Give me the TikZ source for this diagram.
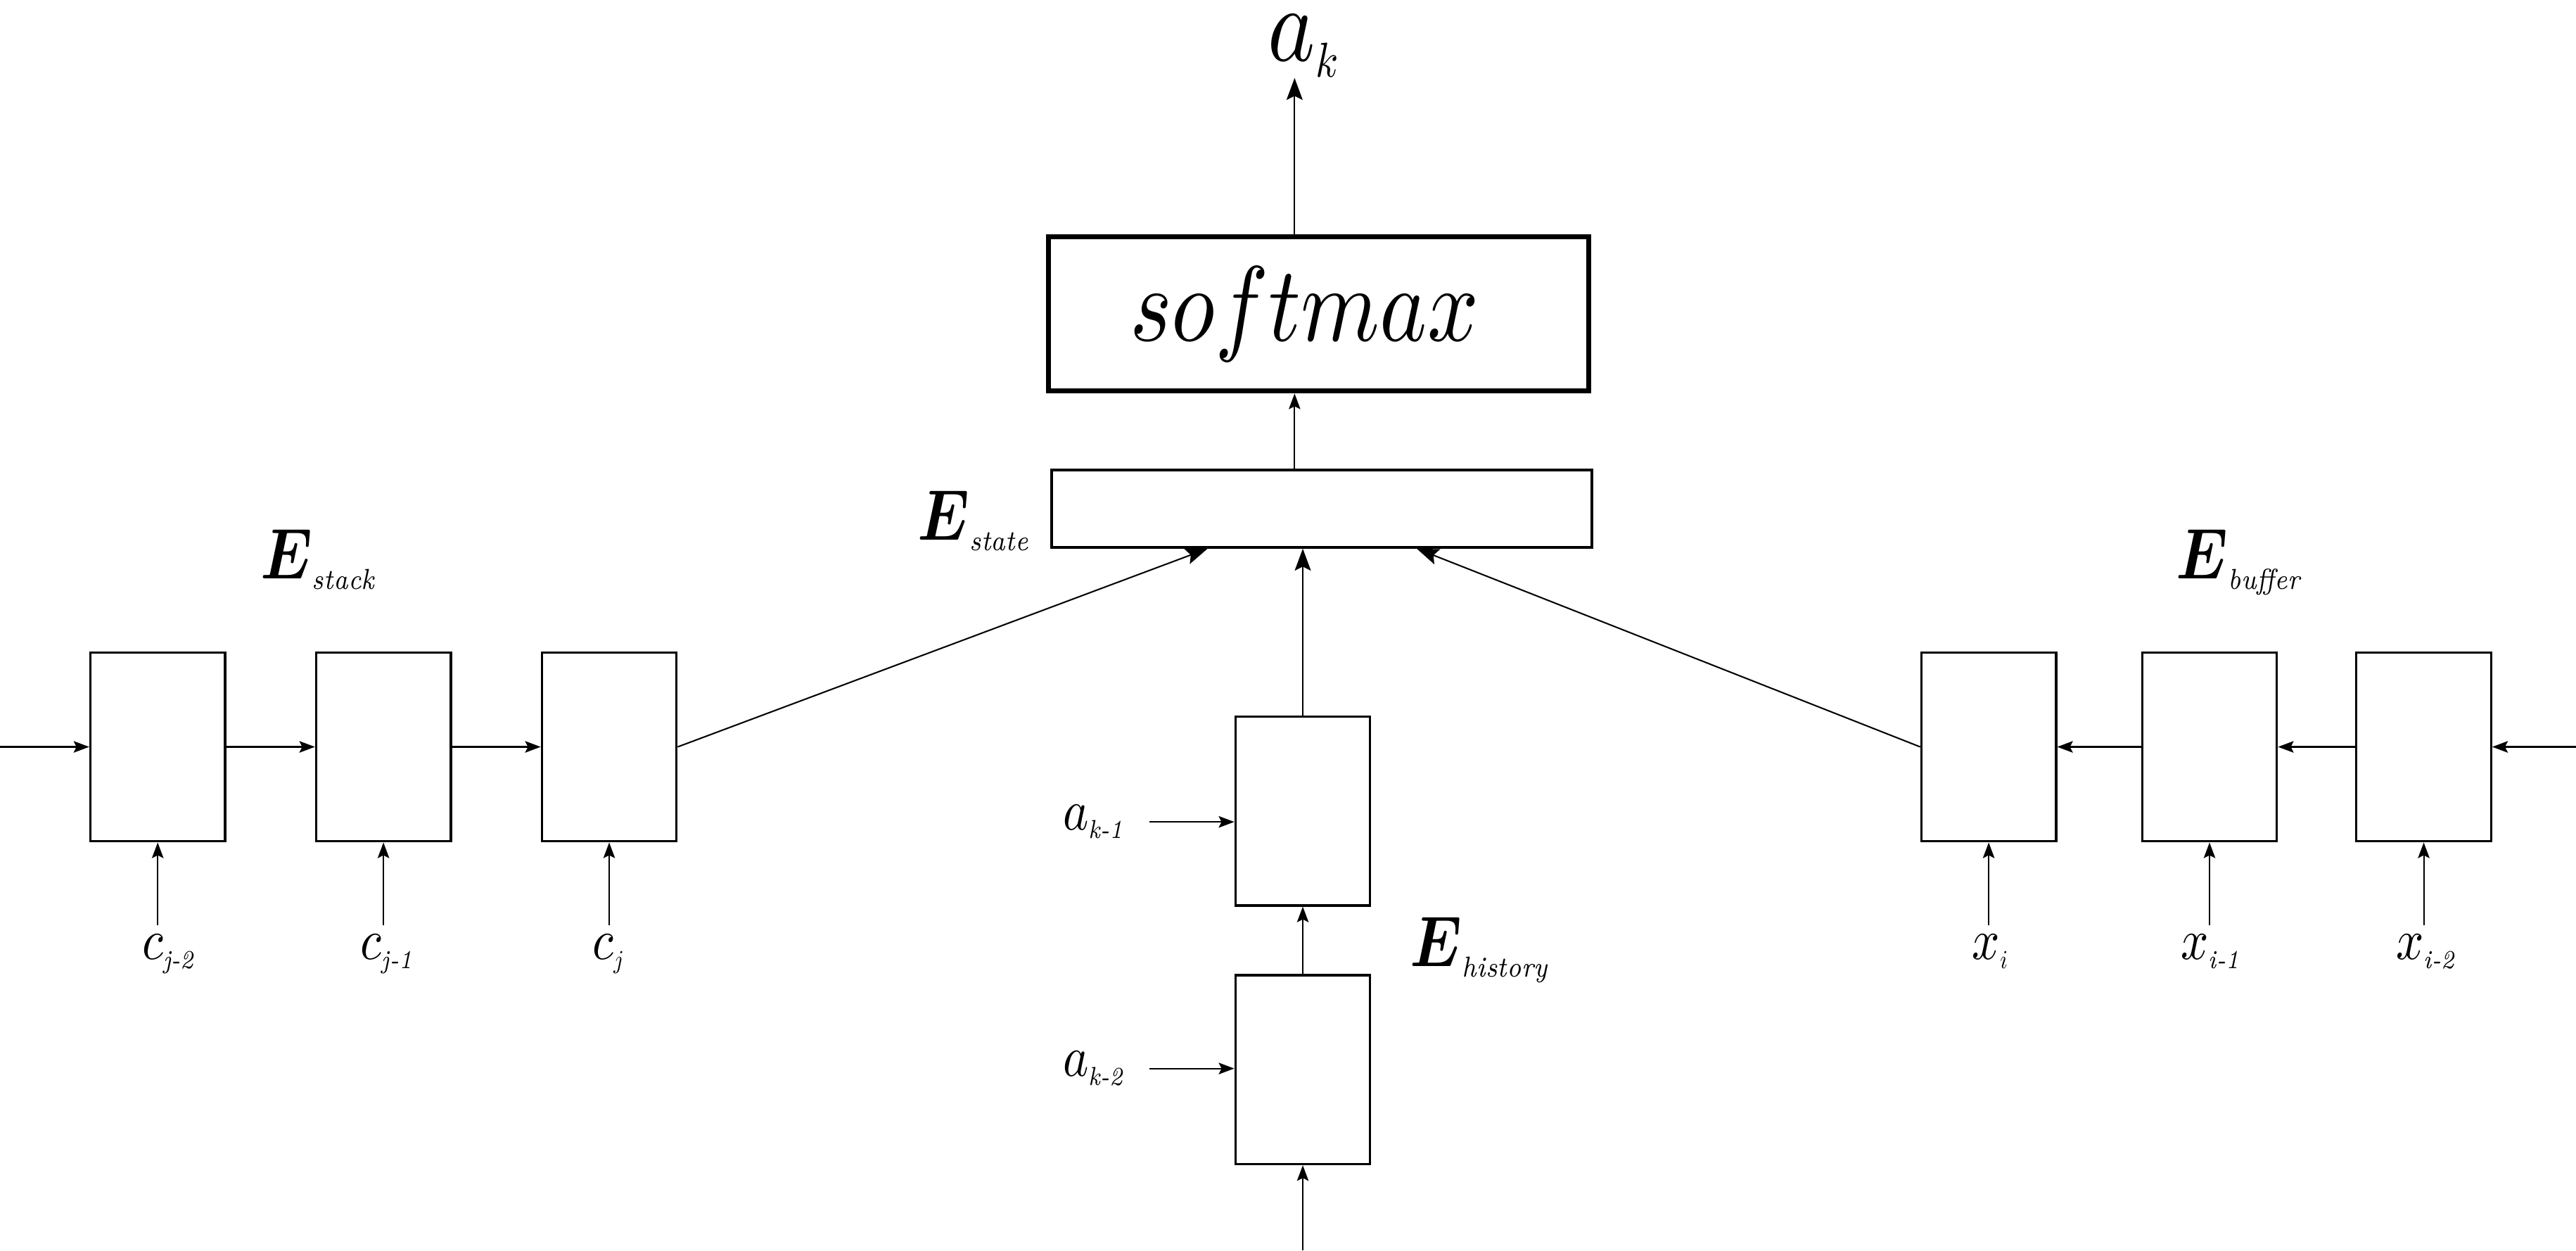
\RequirePackage{fix-cm}
\documentclass[tikz,border=0pt]{standalone}
\usepackage{amsmath}
\usepackage{graphicx}
\usetikzlibrary{arrows.meta,positioning,calc}

% one design size for the math letters, scaled to every size
\DeclareFontShape{OML}{cmm}{m}{it}{<->cmmi10}{}
\DeclareFontShape{OML}{cmm}{b}{it}{<->cmmib10}{}
\DeclareMathSizes{10}{10}{4.5}{4}
\DeclareMathSizes{12.4}{12.4}{5}{4.5}
\DeclareMathSizes{18.5}{18.5}{8.5}{7}
\newcommand{\nar}[1]{\scalebox{0.84}[1]{#1}}

\tikzset{
  cell/.style={draw, line width=0.4pt, minimum width=0.82cm, minimum height=1.15cm, inner sep=0},
  inp/.style={inner xsep=4pt, inner ysep=1.5pt, anchor=base},
  tag/.style={inner sep=0, anchor=base, font=\fontsize{12.4}{14}\selectfont},
  arr/.style={-{Stealth[length=2.7pt,width=2pt,inset=0.5pt]}, line width=0.25pt},
  bigarr/.style={-{Stealth[length=3.8pt,width=2.8pt,inset=0.7pt]}, line width=0.25pt}
}

\begin{document}
\begin{tikzpicture}
    \useasboundingbox (0,0) rectangle (15.68,-7.61);
    % output part
    \node[draw, line width=0.85pt, minimum width=3.29cm, minimum height=0.94cm, inner sep=0,
          font=\fontsize{18.5}{20}\selectfont] (sm) at (8.025,-1.91) {\nar{$softmax$}\kern0.17cm};
    \node[draw, line width=0.5pt, minimum width=3.29cm, minimum height=0.47cm] (state) at (8.045,-3.095) {};
    \node[inner sep=0pt, anchor=base, font=\fontsize{18.5}{20}\selectfont] (ak) at (7.94,-0.37) {\nar{$a_k$}};
    \node[tag] (estate) at (5.93,-3.284) {\nar{$\boldsymbol{E}_{\textit{state}}$}};
    \coordinate (spine) at (7.88,0);
    \draw[bigarr] (sm.north -| spine) -- (ak.south -| spine);
    \draw[arr] (state.north -| spine) -- (sm.south -| spine);

    % stack
    \node[cell] (s1) at (0.96,-4.545) {};
    \node[cell, right=0.54cm of s1] (s2) {};
    \node[cell, right=0.54cm of s2] (s3) {};
    \node[tag] (estack) at (1.94,-3.52) {\nar{$\boldsymbol{E}_{\textit{stack}}$}};
    \coordinate (stackin) at (0,-4.545);
    \draw[arr] (stackin) -- (s1.west);
    \draw[arr] (s1.east) -- (s2.west);
    \draw[arr] (s2.east) -- (s3.west);
    \node[inp] (c2) at (1.03,-5.84) {\nar{$c_{\textit{j-2}}$}};
    \node[inp] (c1) at (2.36,-5.84) {\nar{$c_{\textit{j-1}}$}};
    \node[inp] (c0) at (3.71,-5.84) {\nar{$c_j$}};
    \draw[arr] (c2.north -| s1) -- (s1.south);
    \draw[arr] (c1.north -| s2) -- (s2.south);
    \draw[arr] (c0.north -| s3) -- (s3.south);

    % buffer
    \node[cell] (b1) at (12.105,-4.545) {};
    \node[cell, right=0.51cm of b1] (b2) {};
    \node[cell, right=0.47cm of b2] (b3) {};
    \node[tag] (ebuffer) at (13.63,-3.52) {\nar{$\boldsymbol{E}_{\textit{buffer}}$}};
    \coordinate (bufin) at (15.68,-4.545);
    \draw[arr] (bufin) -- (b3.east);
    \draw[arr] (b3.west) -- (b2.east);
    \draw[arr] (b2.west) -- (b1.east);
    \node[inp] (x0) at (12.12,-5.84) {\nar{$x_i$}};
    \node[inp] (x1) at (13.46,-5.84) {\nar{$x_{\textit{i-1}}$}};
    \node[inp] (x2) at (14.77,-5.84) {\nar{$x_{\textit{i-2}}$}};
    \draw[arr] (x0.north -| b1) -- (b1.south);
    \draw[arr] (x1.north -| b2) -- (b2.south);
    \draw[arr] (x2.north -| b3) -- (b3.south);

    % history
    \node[cell] (h1) at (7.93,-4.935) {};
    \node[cell, below=0.41cm of h1] (h2) {};
    \node[tag] (ehist) at (9.01,-5.88) {\nar{$\boldsymbol{E}_{\textit{history}}$}};
    \node[inp] (a1) at (6.66,-5.05) {\nar{$a_{\textit{k-1}}$}};
    \node[inp] (a2) at (6.66,-6.55) {\nar{$a_{\textit{k-2}}$}};
    \draw[arr] (a1.east) -- (a1.east -| h1.west);
    \draw[arr] (a2.east) -- (a2.east -| h2.west);
    \coordinate (histin) at (7.93,-7.61);
    \draw[arr] (histin) -- (h2.south);
    \draw[arr] (h2.north) -- (h1.south);

    % into the state
    \draw[bigarr] (s3.east) -- ($(state.south west)!0.29!(state.south east)$);
    \draw[bigarr] (h1.north) -- (h1.north |- state.south);
    \draw[bigarr] (b1.west) -- ($(state.south west)!0.675!(state.south east)$);
\end{tikzpicture}
\end{document}
